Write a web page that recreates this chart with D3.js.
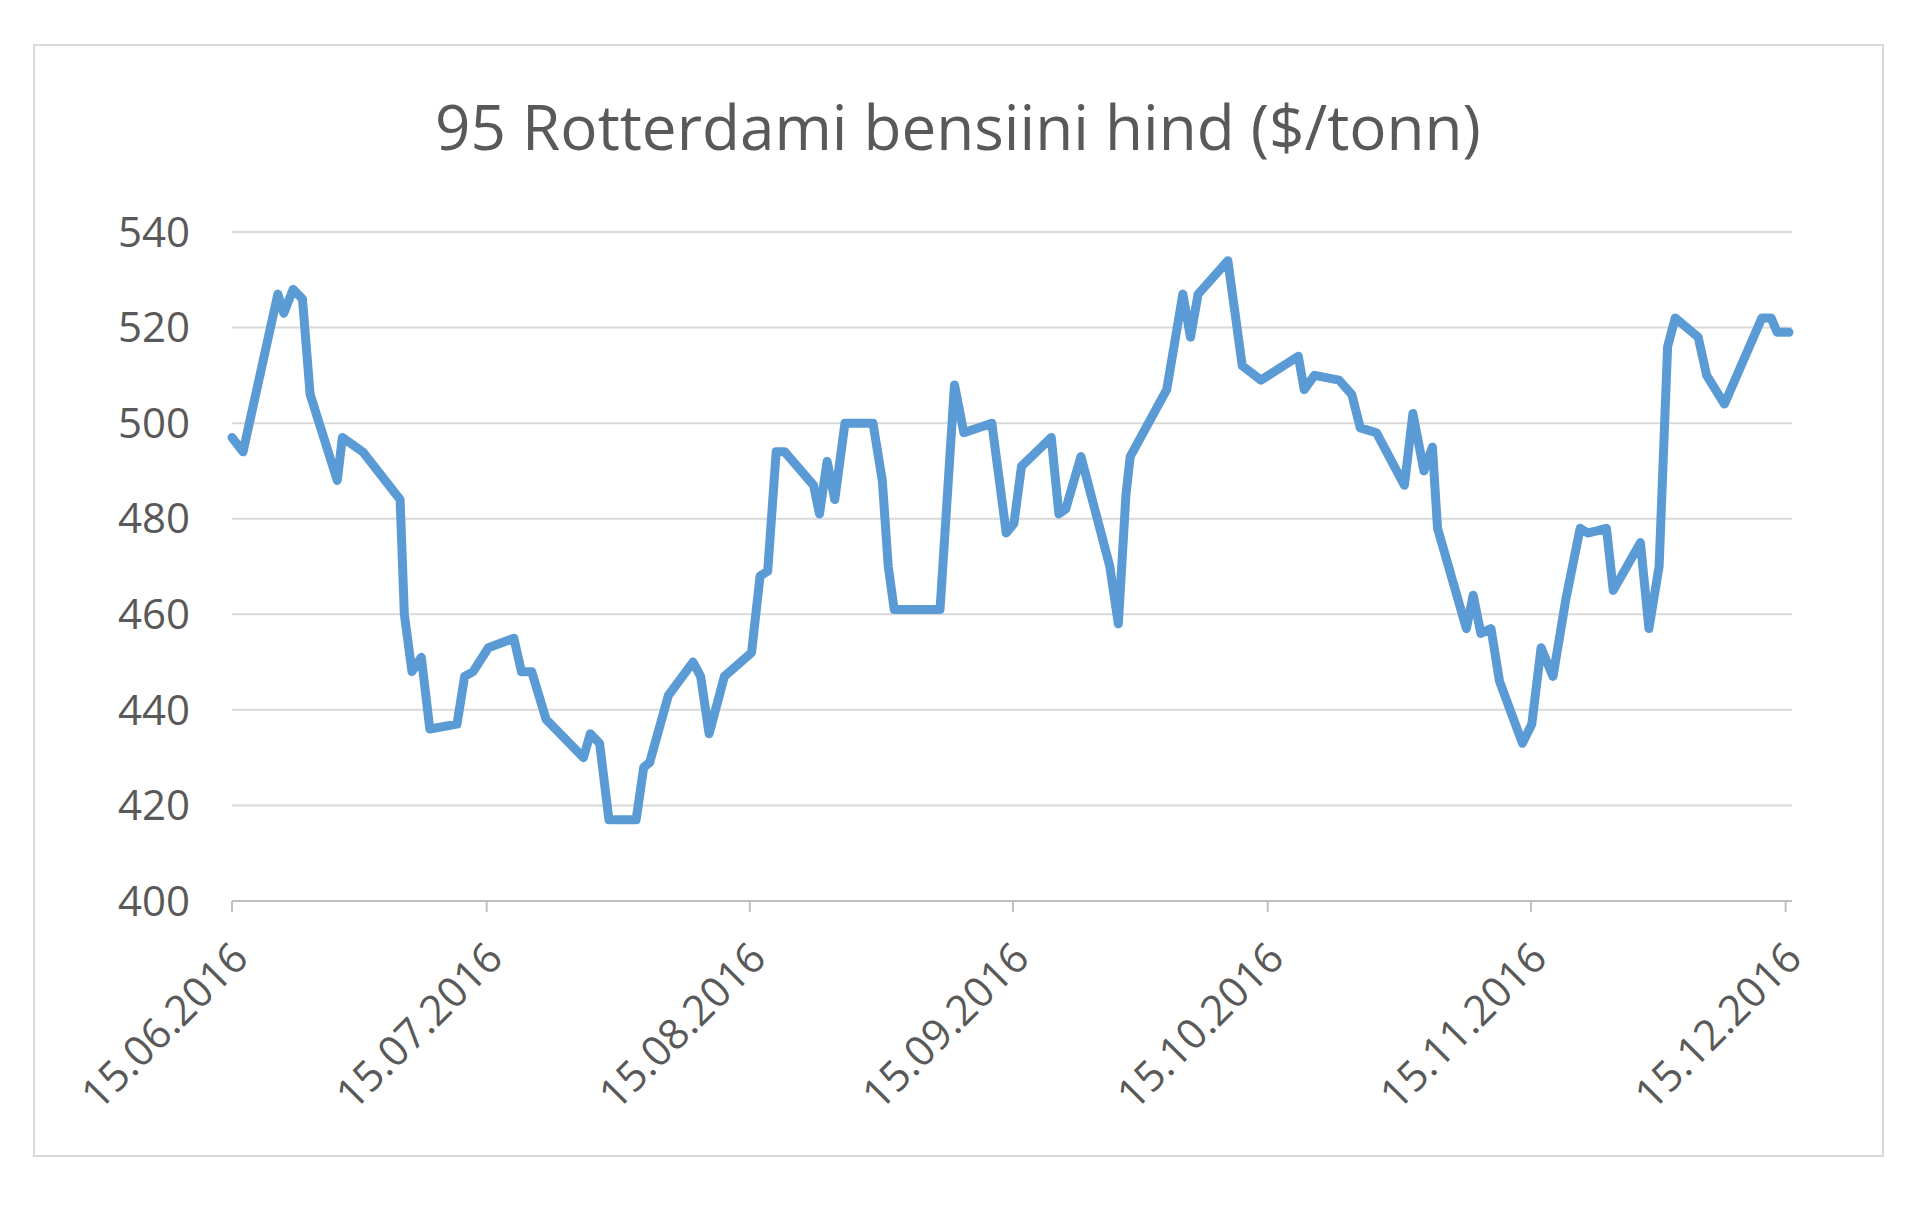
<!DOCTYPE html>
<html><head><meta charset="utf-8">
<script src="https://cdn.jsdelivr.net/npm/d3@7"></script>
<style>body{margin:0;background:#fff}svg{display:block}</style>
</head><body><svg id="c" width="1920" height="1217"></svg>
<script>
const title = "95 Rotterdami bensiini hind ($/tonn)";
const dayOffsets = [0,1.3,5.4,6.1,7.2,8.3,9.2,12.4,13.0,15.4,19.8,20.3,21.2,22.3,23.3,26.5,27.4,28.4,30.2,33.2,34.1,35.3,37.0,41.4,42.2,43.3,44.4,47.6,48.5,49.2,51.4,54.3,55.2,56.2,58.0,61.2,62.2,63.1,64.1,65.1,68.5,69.2,70.1,71.0,72.2,75.5,76.6,77.3,78.0,83.4,85.1,86.2,89.5,91.2,92.1,93.0,96.5,97.4,98.2,100.0,103.4,104.4,105.3,105.8,110.1,112.0,112.9,113.8,117.3,119.0,121.2,125.6,126.3,127.5,130.4,131.9,132.9,134.8,138.1,139.1,140.4,141.4,142.0,145.4,146.2,147.1,148.3,149.3,152.0,153.1,154.2,155.6,157.1,158.8,159.7,161.9,162.7,165.9,166.9,168.1,169.1,170.0,172.7,173.7,175.8,180.2,181.3,182.0,183.4];
const prices = [497,494,527,523,528,526,506,488,497,494,484,460,448,451,436,437,447,448,453,455,448,448,438,430,435,433,417,417,428,429,443,450,447,435,447,452,468,469,494,494,487,481,492,484,500,500,488,470,461,461,508,498,500,477,479,491,497,481,482,493,470,458,485,493,507,527,518,527,534,512,509,514,507,510,509,506,499,498,487,502,490,495,478,457,464,456,457,446,433,437,453,447,463,478,477,478,465,475,457,470,516,522,518,510,504,522,522,519,519];
const tickDays = [0,30,61,92,122,153,183];
const tickLabels = ["15.06.2016","15.07.2016","15.08.2016","15.09.2016","15.10.2016","15.11.2016","15.12.2016"];
const yTicks = [400,420,440,460,480,500,520,540];

const svg = d3.select("#c");
const font = "Open Sans, Liberation Sans, sans-serif";
svg.append("rect").attr("x",34).attr("y",45).attr("width",1849).attr("height",1111)
  .attr("fill","#fff").attr("stroke","#d9d9d9").attr("stroke-width",2);
svg.append("text").attr("x",958).attr("y",150).attr("text-anchor","middle")
  .attr("font-family",font).attr("font-size",62).attr("fill","#595959").text(title);

const x = d3.scaleLinear().domain([0,183.4]).range([232,1789]);
const y = d3.scaleLinear().domain([400,540]).range([901,232]);

svg.append("g").selectAll("line").data(yTicks).join("line")
  .attr("x1",232).attr("x2",1792).attr("y1",d=>y(d)).attr("y2",d=>y(d))
  .attr("stroke",d=>d===400?"#bfbfbf":"#d9d9d9").attr("stroke-width",2);
svg.append("g").selectAll("text").data(yTicks).join("text")
  .attr("x",190).attr("y",d=>y(d)).attr("dy","0.35em").attr("text-anchor","end")
  .attr("font-family",font).attr("font-size",42).attr("fill","#595959").text(d=>d);

svg.append("g").selectAll("line").data(tickDays).join("line")
  .attr("x1",d=>x(d)).attr("x2",d=>x(d)).attr("y1",901).attr("y2",912)
  .attr("stroke","#bfbfbf").attr("stroke-width",2);
svg.append("g").selectAll("text").data(tickDays).join("text")
  .attr("transform",d=>`translate(${x(d)+8},${950}) rotate(-45)`)
  .attr("text-anchor","end").attr("dy","0.35em")
  .attr("font-family",font).attr("font-size",42).attr("fill","#595959")
  .text((d,i)=>tickLabels[i]);

const pts = dayOffsets.map((d,i)=>[d,prices[i]]);
svg.append("path").datum(pts)
  .attr("d",d3.line().x(d=>x(d[0])).y(d=>y(d[1])))
  .attr("fill","none").attr("stroke","#5b9bd5").attr("stroke-width",9)
  .attr("stroke-linejoin","round").attr("stroke-linecap","round");
</script></body></html>
